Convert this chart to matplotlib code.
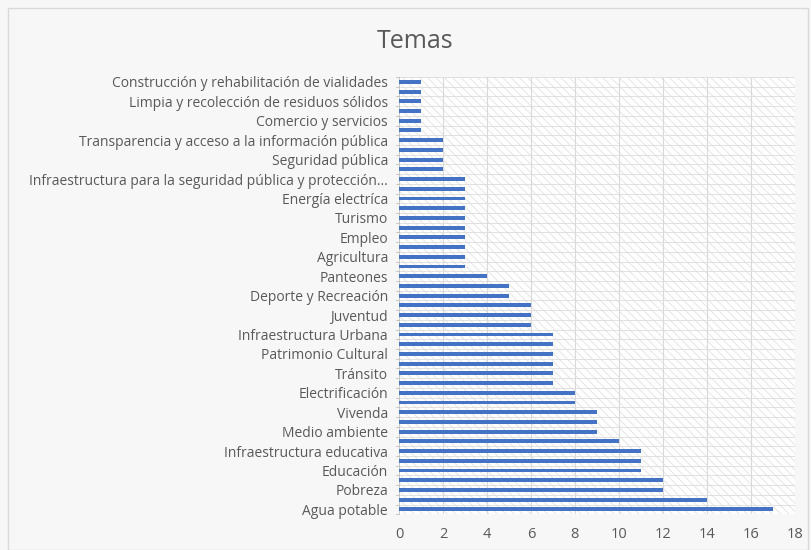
import matplotlib
matplotlib.use("Agg")
import matplotlib.pyplot as plt
from matplotlib.patches import Rectangle

# values from bottom (index 0) to top
values = [17, 14, 12, 12, 11, 11, 11, 10, 9, 9, 9, 8, 8,
          7, 7, 7, 7, 7, 7, 6, 6, 6, 5, 5, 4,
          3, 3, 3, 3, 3, 3, 3, 3, 3, 3,
          2, 2, 2, 2, 1, 1, 1, 1, 1, 1]

# only every other category is labelled in the picture
labels = ['Agua potable', 'Pobreza', 'Educación', 'Infraestructura educativa',
          'Medio ambiente', 'Vivenda', 'Electrificación', 'Tránsito',
          'Patrimonio Cultural', 'Infraestructura Urbana', 'Juventud',
          'Deporte y Recreación', 'Panteones', 'Agricultura', 'Empleo',
          'Turismo', 'Energía electríca',
          'Infraestructura para la seguridad pública y protección...',
          'Seguridad pública', 'Transparencia y acceso a la información pública',
          'Comercio y servicios', 'Limpia y recolección de residuos sólidos',
          'Construcción y rehabilitación de vialidades']

xticks = list(range(0, 19, 2))

plt.rcParams['font.family'] = ['Open Sans', 'DejaVu Sans']
plt.rcParams['hatch.linewidth'] = 0.6
text_col = '#595959'

fig = plt.figure(figsize=(8.11, 5.5), dpi=100)
fig.patch.set_facecolor('#f7f7f7')
fig.patches.append(Rectangle((8 / 811, 0.0), 800 / 811, 1 - 8 / 550,
                             transform=fig.transFigure, fill=False,
                             edgecolor='#d9d9d9', linewidth=1))

ax = fig.add_axes([0.492, 0.065, 0.488, 0.795])
ax.set_facecolor('white')
ax.add_patch(Rectangle((0, 0), 1, 1, transform=ax.transAxes, facecolor='white',
                       hatch='\\\\\\\\', edgecolor='#e2e2e2', linewidth=0, zorder=0))

pos = list(range(len(values)))
ax.barh(pos, values, height=0.4, color='#4472c4', zorder=3)

ax.set_xlim(0, 18)
ax.set_ylim(-0.5, len(values) - 0.5)
ax.set_xticks(xticks)
ax.set_xticklabels([str(t) for t in xticks], fontsize=10.5, color=text_col)
ax.set_yticks(pos[::2])
ax.set_yticklabels(labels, fontsize=10, color=text_col)
ax.tick_params(axis='x', length=0, pad=9)
ax.tick_params(axis='y', length=0, pad=8)

# gridlines
for t in xticks[1:]:
    ax.axvline(t, color='#d9d9d9', linewidth=0.8, zorder=1)
for b in range(len(values) + 1):
    ax.axhline(b - 0.5, color='#dcdcdc', linewidth=0.6, zorder=1)
for y in range(len(values) + 1):
    ax.plot([-0.12, 0], [y - 0.5, y - 0.5], color='#bfbfbf', linewidth=0.6,
            clip_on=False, zorder=2)
ax.axvline(0, color='#bfbfbf', linewidth=0.6, zorder=2)

for s in ax.spines.values():
    s.set_visible(False)

fig.text(415 / 811, 1 - 42 / 550, 'Temas', ha='center', va='center',
         fontsize=18, color=text_col)

fig.savefig('out.png', dpi=100, facecolor=fig.get_facecolor())
